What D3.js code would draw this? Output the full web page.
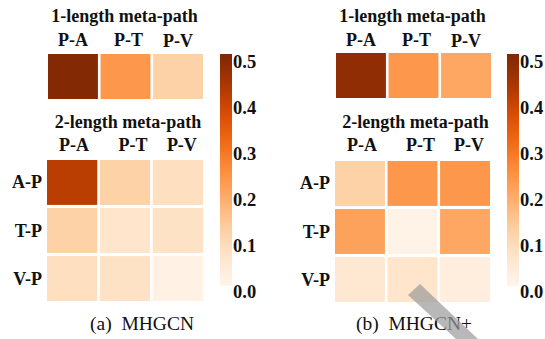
<!DOCTYPE html>
<html>
<head>
<meta charset="utf-8">
<script src="https://cdn.jsdelivr.net/npm/d3@7"></script>
<style>
html,body{margin:0;padding:0;background:#fff;}
svg{display:block;}
text{font-family:"Liberation Serif","Times New Roman",serif;fill:#111;}
</style>
</head>
<body>
<svg id="chart" width="545" height="339"></svg>
<script>
// ---- data ----
const colLabels = ["P-A", "P-T", "P-V"];
const rowLabels = ["A-P", "T-P", "V-P"];
const titleTop = "1-length meta-path";
const titleBottom = "2-length meta-path";
const captions = ["(a)\u00a0\u00a0MHGCN", "(b)\u00a0\u00a0MHGCN+"];
const oneLenA = [0.51, 0.245, 0.13];
const twoLenA = [
  [0.43, 0.13, 0.095],
  [0.13, 0.075, 0.085],
  [0.095, 0.085, 0.03]
];
const oneLenB = [0.49, 0.245, 0.215];
const twoLenB = [
  [0.13, 0.245, 0.245],
  [0.225, 0.02, 0.215],
  [0.065, 0.075, 0.04]
];
const cbarTicks = [0.0, 0.1, 0.2, 0.3, 0.4, 0.5];
const vmin = 0.013, vmax = 0.517;

// ---- drawing ----
const svg = d3.select("#chart");
const color = d3.scaleSequential(d3.interpolateOranges).domain([vmin, vmax]);

const defs = svg.append("defs");
const grad = defs.append("linearGradient").attr("id", "cbar")
  .attr("x1", 0).attr("y1", 1).attr("x2", 0).attr("y2", 0);
d3.range(0, 1.0001, 0.05).forEach(t => {
  grad.append("stop").attr("offset", t).attr("stop-color", d3.interpolateOranges(t));
});

const panels = [
  {one: oneLenA, two: twoLenA, caption: captions[0], capX: 142,
   topX: [48, 203], botX: [47, 203], topY: [54, 99], botY: [160, 301], cbX: 220},
  {one: oneLenB, two: twoLenB, caption: captions[1], capX: 414,
   topX: [336, 491], botX: [335, 490], topY: [53, 98], botY: [161, 302], cbX: 507}
];

panels.forEach(p => {
  const g = svg.append("g");
  const xTop = d3.scaleBand().domain(colLabels).range(p.topX).paddingInner(0.05);
  const xBot = d3.scaleBand().domain(colLabels).range(p.botX).paddingInner(0.05);
  const yBot = d3.scaleBand().domain(rowLabels).range(p.botY).paddingInner(0.065);

  // top heatmap
  g.selectAll("rect.top").data(p.one).join("rect").attr("class", "top")
    .attr("x", (d, i) => xTop(colLabels[i]))
    .attr("y", p.topY[0])
    .attr("width", xTop.bandwidth())
    .attr("height", p.topY[1] - p.topY[0])
    .attr("fill", d => color(d));

  // bottom heatmap
  const cells = [];
  p.two.forEach((row, r) => row.forEach((v, c) => cells.push({r, c, v})));
  g.selectAll("rect.bot").data(cells).join("rect").attr("class", "bot")
    .attr("x", d => xBot(colLabels[d.c]))
    .attr("y", d => yBot(rowLabels[d.r]))
    .attr("width", xBot.bandwidth())
    .attr("height", yBot.bandwidth())
    .attr("fill", d => color(d.v));

  const cxTop = (p.topX[0] + p.topX[1]) / 2;
  const cxBot = (p.botX[0] + p.botX[1]) / 2;

  // titles
  g.append("text").attr("x", cxTop - 1).attr("y", 22).attr("text-anchor", "middle")
    .attr("font-weight", "bold").attr("font-size", 18).text(titleTop);
  g.append("text").attr("x", cxBot + 3).attr("y", 128).attr("text-anchor", "middle")
    .attr("font-weight", "bold").attr("font-size", 18).text(titleBottom);

  // column labels
  const colOff = [0, 3, 0];
  const colOffB = [2, 8, 4];
  colLabels.forEach((c, i) => {
    g.append("text").attr("x", xTop(c) + xTop.bandwidth() / 2 + colOff[i])
      .attr("y", i === 2 ? 47 : 45.5).attr("text-anchor", "middle")
      .attr("font-weight", "bold").attr("font-size", 18).text(c);
    g.append("text").attr("x", xBot(c) + xBot.bandwidth() / 2 + colOffB[i])
      .attr("y", 151).attr("text-anchor", "middle")
      .attr("font-weight", "bold").attr("font-size", 18).text(c);
  });

  // row labels
  rowLabels.forEach(r => {
    g.append("text").attr("x", p.botX[0] - 5)
      .attr("y", yBot(r) + yBot.bandwidth() / 2 + 6).attr("text-anchor", "end")
      .attr("font-weight", "bold").attr("font-size", 18).text(r);
  });

  // colorbar
  const cbY = d3.scaleLinear().domain([vmin, vmax]).range([286, 54]);
  g.append("rect").attr("x", p.cbX).attr("y", cbY(vmax)).attr("width", 12)
    .attr("height", cbY(vmin) - cbY(vmax)).attr("fill", "url(#cbar)");
  const axis = d3.axisRight(cbY).tickValues(cbarTicks).tickFormat(d3.format(".1f")).tickSize(0).tickPadding(1);
  const ag = g.append("g").attr("transform", `translate(${p.cbX + 12},0)`).call(axis);
  ag.select(".domain").remove();
  ag.selectAll("text").attr("font-weight", "bold").attr("font-size", 18.5)
    .style("font-family", '"Liberation Serif", serif').attr("fill", "#111");

  // caption
  g.append("text").attr("x", p.capX).attr("y", 330).attr("text-anchor", "middle")
    .attr("font-size", 19.5).text(p.caption);
});

// grey diagonal overlay mark (as in the reference picture)
svg.append("polygon")
  .attr("points", "408,295 420,284 478,339 456,339")
  .attr("fill", "#9a9a9a").attr("fill-opacity", 0.7);
</script>
</body>
</html>
